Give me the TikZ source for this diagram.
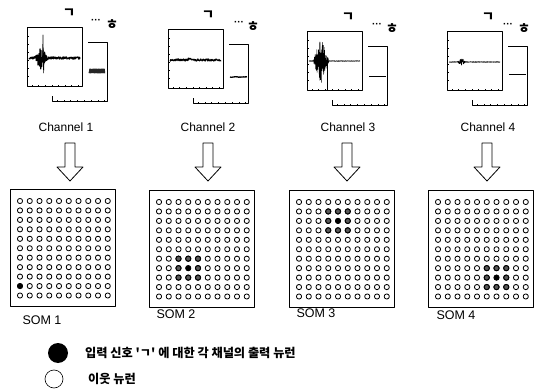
\documentclass[tikz,border=0pt]{standalone}
\usepackage{fontspec}
\setmainfont{Liberation Sans}
\newfontfamily\kr{Noto Sans CJK KR}
\begin{document}
\begin{tikzpicture}[x=1pt,y=-1pt,line join=round,
  frame/.style={line width=1pt},
  tickmark/.style={line width=0.5pt},
  trace/.style={line width=0.6pt},
  neuron/.style={circle,draw,line width=0.85pt,minimum size=5.2pt,inner sep=0pt},
  chlabel/.style={font=\fontsize{12}{12}\selectfont,inner sep=0pt},
  somlabel/.style={font=\fontsize{12.5}{12.5}\selectfont,inner sep=0pt},
  toplabel/.style={font=\kr\bfseries\fontsize{13.5}{13.5}\selectfont,inner sep=0pt},
  legtext/.style={font=\kr\bfseries\fontsize{12.2}{12.2}\selectfont,inner sep=0pt,anchor=west},
  hollowarrow/.style={draw,line width=0.8pt,fill=white}]
\useasboundingbox (0,0) rectangle (538,390);
\pgfmathsetseed{7}

% ---------- channel frames ----------
% #1,#2 origin, #3 name, #4 #5 #6 x of the top labels
\newcommand\chanframe[6]{%
  \begin{scope}[shift={(#1,#2)}]
    \draw[frame] (25,15) rectangle (80,74);
    \foreach \i in {0,...,7} \draw[tickmark] ({30+6.8*\i},74) -- ++(0,-1.6);
    \fill[white] (-4,-3) rectangle (61,68);
    \draw[frame] (0,0) rectangle (55,59);
    \foreach \yy in {8,16,24,32,40,48} \draw[tickmark] (0,\yy) -- (1.8,\yy);
    \foreach \i in {0,...,7} \draw[tickmark] ({5+6.6*\i},59) -- ++(0,-1.8);
    \node[toplabel] (#3-k) at (#4,-15) {ㄱ};
    \node[font=\bfseries\fontsize{10}{10}\selectfont,inner sep=0pt] (#3-dots) at (#5,-7) {···};
    \node[toplabel] (#3-h) at (#6,-3) {ㅎ};
  \end{scope}}

\chanframe{27}{28}{c1}{42}{69}{85}
\chanframe{168}{30}{c2}{40}{71}{85}
\chanframe{307}{32}{c3}{41}{70}{85}
\chanframe{447}{32}{c4}{41}{61}{77}

% ---------- signals ----------
% channel 1
\begin{scope}[shift={(27,28)}]
  \draw[trace,line width=1.1pt] plot[domain=2:53,samples=200]
    (\x,{30+1.2*rand+12*max(0,1-abs(\x-14)/7)*rand});
  \draw[trace] (15.5,30) -- (16,7) -- (16.6,45) -- (17.2,30);
  \draw[line width=4.5pt,black!85] plot[domain=62:78,samples=20] (\x,{43+0.3*rand});
\end{scope}
% channel 2
\begin{scope}[shift={(168,30)}]
  \draw[trace,line width=1.1pt] plot[domain=2:53,samples=160]
    (\x,{30+1.1*rand-1.5*max(0,1-abs(\x-22)/4)});
  \draw[line width=1.3pt] plot[domain=62:79,samples=20] (\x,{47+0.3*rand});
\end{scope}
% channel 3
\begin{scope}[shift={(307,32)}]
  \draw[trace,line width=0.5pt] plot[domain=2:53,samples=420]
    (\x,{29+0.4*rand+25*max(0,1-abs(\x-14)/8)*rand});
  \draw[tickmark] (20,29) -- (20,59);
  \draw[line width=1pt] (62,45) -- (79,45);
\end{scope}
% channel 4
\begin{scope}[shift={(447,32)}]
  \draw[trace,line width=0.8pt] plot[domain=2:53,samples=200]
    (\x,{30+0.25*rand+3.5*max(0,1-abs(\x-15)/5)*rand});
  \draw[line width=1pt] (62,43) -- (79,43);
\end{scope}

% ---------- channel labels ----------
\node[chlabel] (ch1) at (66,127) {Channel 1};
\node[chlabel] (ch2) at (208,127) {Channel 2};
\node[chlabel] (ch3) at (348,127) {Channel 3};
\node[chlabel] (ch4) at (488,127) {Channel 4};

% ---------- hollow arrows ----------
\foreach \cx in {70,208,347,487}
  \draw[hollowarrow] (\cx-5,143) -- (\cx+5,143) -- (\cx+5,167) -- (\cx+13,167)
    -- (\cx,181) -- (\cx-13,167) -- (\cx-5,167) -- cycle;

% ---------- SOM grids ----------
\newcommand\somgrid[3]{%
  \draw[frame] (#2,#3) rectangle ++(105,116);
  \foreach \r in {1,...,11}
    \foreach \c in {1,...,10}
      \node[neuron] (#1-\r-\c) at ({#2+10+9.75*(\c-1)},{#3+11+9.45*(\r-1)}) {};}

\somgrid{s1}{10}{190}
\somgrid{s2}{149}{191}
\somgrid{s3}{289}{191}
\somgrid{s4}{428}{191}

\newcommand\win[1]{\fill[black] (#1.center) circle (2.9pt);}
\newcommand\nbr[1]{\draw[fill=black!65,line width=1pt] (#1.center) circle (2.6pt);}

\win{s1-10-1}

\foreach \r/\c in {7/3,7/4,7/5,8/3,8/5,9/3,9/4,9/5} {\nbr{s2-\r-\c}}
\win{s2-8-4}

\foreach \r/\c in {2/4,2/5,2/6,3/4,3/6,4/4,4/5,4/6} {\nbr{s3-\r-\c}}
\win{s3-3-5}

\foreach \r/\c in {8/6,8/7,8/8,9/6,9/8,10/6,10/7,10/8} {\nbr{s4-\r-\c}}
\win{s4-9-7}

\node[somlabel] (som1) at (42,320) {SOM 1};
\node[somlabel] (som2) at (176,314) {SOM 2};
\node[somlabel] (som3) at (316,313) {SOM 3};
\node[somlabel] (som4) at (456,315) {SOM 4};

% ---------- legend ----------
\node[circle,fill=black,minimum size=20pt,inner sep=0pt] (legwin) at (58,353) {};
\node[legtext] (legwintext) at (85,353) {입력 신호 \textquotesingle ㄱ\textquotesingle{} 에 대한 각 채널의 출력 뉴런};
\node[circle,draw,line width=0.6pt,minimum size=18pt,inner sep=0pt] (legnbr) at (54,379) {};
\node[legtext] (legnbrtext) at (88,379) {이웃 뉴런};
\end{tikzpicture}
\end{document}
